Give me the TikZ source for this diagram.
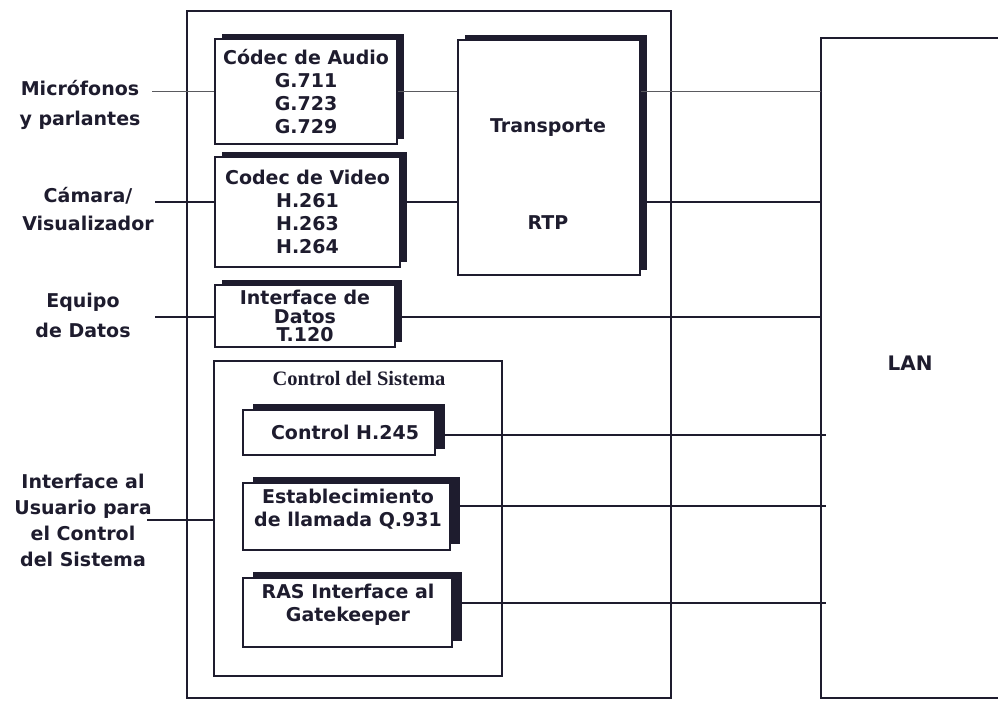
\documentclass[tikz,border=0pt]{standalone}
\usepackage{fontspec}
\setmainfont{DejaVu Sans}
\newfontfamily\serifb{Liberation Serif}
\usetikzlibrary{shadows,calc}
\definecolor{inkc}{RGB}{30,28,46}
\definecolor{greyl}{RGB}{90,90,95}
\tikzset{
  x=1pt, y=-1pt,
  lbl/.style={font=\fontsize{19}{23}\selectfont\bfseries, text=inkc, align=center, inner sep=0pt},
  boxo/.style={draw=inkc, line width=1.4pt, fill=white, inner sep=0pt, lbl},
  shadowA/.style={drop shadow={shadow xshift=7pt, shadow yshift=5pt, opacity=1, fill=inkc}},
  shadowB/.style={drop shadow={shadow xshift=10pt, shadow yshift=6pt, opacity=1, fill=inkc}},
  frame/.style={draw=inkc, line width=1.5pt, inner sep=0pt},
  wire/.style={draw=inkc, line width=1.5pt},
  wirethin/.style={draw=greyl, line width=1pt},
}
\begin{document}
\begin{tikzpicture}
\useasboundingbox (0,0) rectangle (998,701);
\fill[white] (0,0) rectangle (998,701);

% outer terminal box and system control box
\node[frame, minimum width=484pt, minimum height=687pt] (term) at (429,354.5) {};
\node[frame, line width=1.3pt, minimum width=288pt, minimum height=315pt] (ctrl) at (358,518.5) {};
\node[font=\serifb\fontsize{20.5}{24}\selectfont\bfseries, text=inkc, inner sep=0pt] (ctrlt) at (359,378) {Control del Sistema};

% LAN (open to the right)
\node[inner sep=0pt, minimum width=189pt, minimum height=660pt] (lan) at (915.5,368) {};
\draw[frame] (lan.north east) -- (lan.north west) -- (lan.south west) -- (lan.south east);
\node[lbl, font=\fontsize{20}{24}\selectfont\bfseries] (lant) at (910,363) {LAN};

% boxes with shadows
\node[boxo, shadowA, minimum width=182pt, minimum height=105pt] (audio) at (306,91.5)
  {Códec de Audio\\G.711\\G.723\\G.729};
\node[boxo, shadowA, minimum width=185pt, minimum height=110pt] (video) at (307.5,212)
  {Codec de Video\\H.261\\H.263\\H.264};
\node[boxo, shadowA, minimum width=180pt, minimum height=62pt,
  font=\fontsize{19}{18.5}\selectfont\bfseries] (datos) at (305,316)
  {Interface de\\Datos\\T.120};
\node[boxo, shadowA, minimum width=182pt, minimum height=235pt] (rtp) at (549,157.5) {};
\node[lbl] (rtpa) at (548,128) {Transporte};
\node[lbl] (rtpb) at (548,223) {RTP};

\node[boxo, shadowB, minimum width=192pt, minimum height=45pt] (h245) at (339,432.5) {};
\node[lbl] (h245t) at (345,432) {Control H.245};
\node[boxo, shadowB, minimum width=207pt, minimum height=67pt] (q931) at (346.5,516.5) {};
\node[lbl] (q931t) at (348,509.5) {Establecimiento\\de llamada Q.931};
\node[boxo, shadowB, minimum width=209pt, minimum height=69pt] (ras) at (347.5,612.5) {};
\node[lbl] (rast) at (348,604.5) {RAS Interface al\\Gatekeeper};

% external labels
\node[lbl, font=\fontsize{19}{30}\selectfont\bfseries] (mic) at (80,105) {Micrófonos\\y parlantes};
\node[lbl, font=\fontsize{19}{28}\selectfont\bfseries] (cam) at (88,209) {Cámara/\\Visualizador};
\node[lbl, font=\fontsize{19}{30}\selectfont\bfseries] (equ) at (83,315) {Equipo\\de Datos};
\node[lbl, font=\fontsize{19}{26}\selectfont\bfseries] (usr) at (83,520) {Interface al\\Usuario para\\el Control\\del Sistema};

% connector anchors
\coordinate (micE) at (152,91.5);
\coordinate (camE) at (155,202);
\coordinate (equE) at (155,317);
\coordinate (usrE) at (147,520);
\coordinate (lanR) at (826,0);
\coordinate (yh) at (0,435);
\coordinate (yq) at (0,506);
\coordinate (yr) at (0,603);

% connectors
\draw[wirethin] (micE) -- (micE -| audio.west);
\draw[wire] (camE) -- (camE -| video.west);
\draw[wire] (equE) -- (equE -| datos.west);
\draw[wire] (usrE) -- (usrE -| ctrl.west);
\draw[wirethin] (audio.east) -- (audio.east -| rtp.west);
\draw[wire] (video.east |- camE) -- (rtp.west |- camE);
\draw[wirethin] (rtp.east |- audio.east) -- (lan.west |- audio.east);
\draw[wire, line width=2pt] (rtp.east |- camE) -- (lan.west |- camE);
\draw[wire] (datos.east |- equE) -- (lan.west |- equE);
\draw[wire] (h245.east |- yh) -- (lanR |- yh);
\draw[wire] (q931.east |- yq) -- (lanR |- yq);
\draw[wire] (ras.east |- yr) -- (lanR |- yr);
\end{tikzpicture}
\end{document}
